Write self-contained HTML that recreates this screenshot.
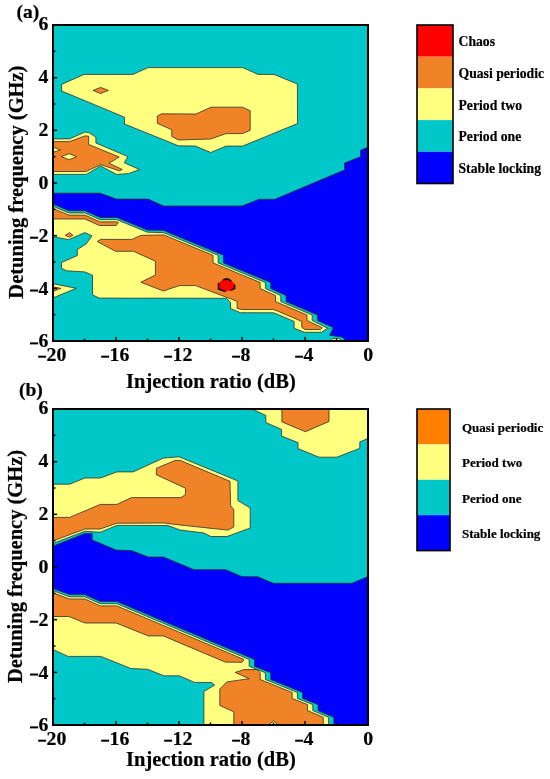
<!DOCTYPE html>
<html><head><meta charset="utf-8"><style>
html,body{margin:0;padding:0;background:#fff;}
svg{display:block;will-change:transform;}
.t{font-family:"Liberation Serif",serif;font-weight:bold;fill:#000;stroke:#000;stroke-width:0.2px;}
</style></head><body>
<svg width="550" height="779" viewBox="0 0 550 779">
<rect width="550" height="779" fill="#fff"/>
<clipPath id="ca"><rect x="54" y="26" width="313" height="314"/></clipPath>
<rect x="53" y="25" width="315" height="316" fill="#00C8C8"/>
<g clip-path="url(#ca)"><polygon points="61.6,84.4 84.0,74.4 133.0,74.4 148.0,67.6 242.6,67.6 258.0,74.4 274.0,74.4 297.4,84.0 297.5,123.6 242.6,146.1 226.1,146.1 210.7,152.5 195.4,146.1 178.4,145.8 124.5,124.0 124.5,117.2 61.6,91.0" fill="#FFFF80" stroke="#303030" stroke-width="0.8" stroke-linejoin="miter" />
<polygon points="157.3,116.0 161.6,113.8 196.0,114.0 211.0,107.2 242.6,107.2 250.2,110.8 250.2,130.3 242.6,133.6 226.1,133.6 210.7,139.0 178.4,140.0 171.8,136.4 171.8,129.8 157.3,123.3" fill="#F08228" stroke="#303030" stroke-width="0.8" stroke-linejoin="miter" />
<polygon points="93.0,90.4 100.6,87.4 108.4,90.4 100.6,93.6" fill="#F08228" stroke="#303030" stroke-width="0.8" stroke-linejoin="miter" />
<polygon points="50.0,138.9 69.5,138.9 85.0,132.1 88.6,132.5 95.9,137.1 95.9,143.0 127.9,156.6 124.3,162.8 139.5,169.5 128.6,173.6 116.8,174.5 100.5,165.9 86.4,174.4 50.0,174.4" fill="#FFFF80" stroke="#303030" stroke-width="0.8" stroke-linejoin="miter" />
<polygon points="50.0,141.6 69.5,141.6 85.0,135.9 88.6,136.2 88.6,144.4 119.2,157.0 109.0,163.2 122.3,169.5 119.5,170.9 100.7,164.6 86.0,171.5 50.0,171.5" fill="#F08228" stroke="#303030" stroke-width="0.8" stroke-linejoin="miter" />
<polygon points="50.0,147.5 54.0,147.5 60.5,149.8 54.0,152.0 50.0,152.0" fill="#FFFF80" stroke="#303030" stroke-width="0.8" stroke-linejoin="miter" />
<polygon points="61.4,156.6 69.1,153.7 76.8,156.6 69.1,159.8" fill="#FFFF80" stroke="#303030" stroke-width="0.8" stroke-linejoin="miter" />
<polygon points="40.0,199.0 54.0,204.5 68.9,210.7 84.9,210.7 100.2,217.5 116.6,217.4 147.3,230.0 163.8,230.5 223.5,255.3 223.5,262.9 270.7,282.5 270.7,288.5 286.0,295.6 286.0,301.6 317.5,315.0 317.5,320.5 333.5,327.7 327.7,328.2 321.4,332.3 304.5,332.3 294.1,328.2 294.1,321.4 273.8,312.8 240.4,312.7 230.5,308.4 230.5,302.4 226.5,298.3 99.1,298.1 92.5,294.8 92.5,275.2 84.9,271.9 66.4,270.8 61.5,268.1 61.5,262.6 77.3,255.5 77.3,249.5 86.0,244.1 92.0,235.9 84.9,232.6 68.5,239.7 50.0,235.9" fill="#FFFF80" stroke="#303030" stroke-width="0.8" stroke-linejoin="miter" />
<polygon points="40.0,203.4 54.0,208.9 68.9,215.1 84.9,215.1 100.2,221.9 116.6,221.8 118.4,222.6 116.2,225.5 99.5,225.5 84.9,219.0 40.0,219.0" fill="#F08228" stroke="#303030" stroke-width="0.8" stroke-linejoin="miter" />
<polygon points="65.3,235.3 69.6,232.6 72.9,235.3 69.6,237.2" fill="#F08228" stroke="#303030" stroke-width="0.8" stroke-linejoin="miter" />
<polygon points="50.0,283.9 54.0,283.9 76.2,288.3 54.0,297.5 50.0,297.5" fill="#FFFF80" stroke="#303030" stroke-width="0.8" stroke-linejoin="miter" />
<polygon points="50.0,287.2 54.0,287.2 60.9,288.3 54.0,291.0 50.0,291.0" fill="#F08228" stroke="#303030" stroke-width="0.8" stroke-linejoin="miter" />
<polygon points="97.2,241.5 100.8,239.4 132.1,239.4 138.6,236.2 142.0,235.3 163.8,234.9 213.0,255.3 213.0,262.9 260.2,282.5 260.2,288.5 275.5,295.6 275.5,301.6 307.0,315.0 307.0,320.5 322.3,327.7 320.5,329.5 305.0,329.5 301.8,327.3 301.8,321.4 273.8,309.5 242.0,309.5 237.1,308.4 237.1,301.3 195.6,285.6 179.3,285.6 163.4,291.0 140.8,282.3 155.4,275.0 155.4,261.2 133.5,251.3 115.4,251.3" fill="#F08228" stroke="#303030" stroke-width="0.8" stroke-linejoin="miter" />
<polygon points="220.5,281.2 225.5,279.0 228.0,279.0 232.0,281.3 234.4,284.0 234.4,288.5 231.0,290.2 226.0,291.6 219.0,289.0 218.4,283.5" fill="#FF0000" stroke="none" stroke-width="0" stroke-linejoin="miter" />
<polyline points="222.8,280.4 225.5,279.0 228.0,279.0 231.2,281.0" fill="none" stroke="#000" stroke-width="1.5" stroke-linejoin="miter"/>
<polyline points="218.5,283.0 218.5,289.0 225.5,291.6" fill="none" stroke="#000" stroke-width="1.5" stroke-linejoin="miter"/>
<polyline points="234.6,284.5 234.6,288.6 230.5,290.4" fill="none" stroke="#000" stroke-width="1.5" stroke-linejoin="miter"/>
<ellipse cx="336" cy="340" rx="4.5" ry="1.8" fill="#FFFF80" stroke="#303030" stroke-width="0.8"/>
<polygon points="40.0,199.0 54.0,204.5 68.9,210.7 84.9,210.7 100.2,217.5 116.6,217.4 147.3,230.0 163.8,230.5 223.5,255.3 223.5,262.9 270.7,282.5 270.7,288.5 286.0,295.6 286.0,301.6 317.5,315.0 317.5,320.5 333.5,327.7 327.7,328.2 312.2,320.5 312.2,315.0 280.8,301.6 280.8,295.6 265.4,288.5 265.4,282.5 218.2,262.9 218.2,255.3 163.8,232.7 147.3,232.2 116.6,219.6 100.2,219.7 84.9,212.9 68.9,212.9 54.0,206.7 40.0,201.2" fill="#00C8C8" stroke="none" stroke-width="0" stroke-linejoin="miter" />
<polyline points="40.0,201.2 54.0,206.7 68.9,212.9 84.9,212.9 100.2,219.7 116.6,219.6 147.3,232.2 163.8,232.7 218.2,255.3 218.2,262.9 265.4,282.5 265.4,288.5 280.8,295.6 280.8,301.6 312.2,315.0 312.2,320.5 327.7,328.2" fill="none" stroke="#303030" stroke-width="0.8" stroke-linejoin="miter"/>
<polygon points="40.0,193.2 100.2,193.2 116.4,199.1 148.2,199.1 163.6,206.0 242.0,206.0 259.0,199.3 274.9,199.3 344.5,169.9 344.5,163.0 360.5,156.8 360.5,150.3 367.0,147.4 375.0,144.0 375.0,350.0 350.0,345.0 342.0,337.1 329.5,335.2 333.5,327.7 317.5,320.5 317.5,315.0 286.0,301.6 286.0,295.6 270.7,288.5 270.7,282.5 223.5,262.9 223.5,255.3 163.8,230.5 147.3,230.0 116.6,217.4 100.2,217.5 84.9,210.7 68.9,210.7 54.0,204.5 40.0,199.0" fill="#0000FF" stroke="#303030" stroke-width="0.8" stroke-linejoin="miter" /></g>
<line x1="116.0" y1="341" x2="116.0" y2="337" stroke="#000" stroke-width="1.5"/>
<line x1="179.0" y1="341" x2="179.0" y2="337" stroke="#000" stroke-width="1.5"/>
<line x1="242.0" y1="341" x2="242.0" y2="337" stroke="#000" stroke-width="1.5"/>
<line x1="305.0" y1="341" x2="305.0" y2="337" stroke="#000" stroke-width="1.5"/>
<line x1="84.5" y1="341" x2="84.5" y2="338.5" stroke="#000" stroke-width="1.5"/>
<line x1="147.5" y1="341" x2="147.5" y2="338.5" stroke="#000" stroke-width="1.5"/>
<line x1="210.5" y1="341" x2="210.5" y2="338.5" stroke="#000" stroke-width="1.5"/>
<line x1="273.5" y1="341" x2="273.5" y2="338.5" stroke="#000" stroke-width="1.5"/>
<line x1="336.5" y1="341" x2="336.5" y2="338.5" stroke="#000" stroke-width="1.5"/>
<line x1="53" y1="77.66666666666666" x2="57" y2="77.66666666666666" stroke="#000" stroke-width="1.5"/>
<line x1="53" y1="130.33333333333331" x2="57" y2="130.33333333333331" stroke="#000" stroke-width="1.5"/>
<line x1="53" y1="183.0" x2="57" y2="183.0" stroke="#000" stroke-width="1.5"/>
<line x1="53" y1="235.66666666666666" x2="57" y2="235.66666666666666" stroke="#000" stroke-width="1.5"/>
<line x1="53" y1="288.3333333333333" x2="57" y2="288.3333333333333" stroke="#000" stroke-width="1.5"/>
<line x1="53" y1="51.33333333333333" x2="55.5" y2="51.33333333333333" stroke="#000" stroke-width="1.5"/>
<line x1="53" y1="104.0" x2="55.5" y2="104.0" stroke="#000" stroke-width="1.5"/>
<line x1="53" y1="156.66666666666666" x2="55.5" y2="156.66666666666666" stroke="#000" stroke-width="1.5"/>
<line x1="53" y1="209.33333333333334" x2="55.5" y2="209.33333333333334" stroke="#000" stroke-width="1.5"/>
<line x1="53" y1="262.0" x2="55.5" y2="262.0" stroke="#000" stroke-width="1.5"/>
<line x1="53" y1="314.6666666666667" x2="55.5" y2="314.6666666666667" stroke="#000" stroke-width="1.5"/>
<rect x="53" y="25" width="315" height="316" fill="none" stroke="#000" stroke-width="2"/>
<rect x="38.20" y="355.70" width="7.9" height="2.0" fill="#000"/>
<text x="46.60" y="360.70" class="t" font-size="19.8">20</text>
<rect x="101.20" y="355.70" width="7.9" height="2.0" fill="#000"/>
<text x="109.60" y="360.70" class="t" font-size="19.8">16</text>
<rect x="164.20" y="355.70" width="7.9" height="2.0" fill="#000"/>
<text x="172.60" y="360.70" class="t" font-size="19.8">12</text>
<rect x="232.15" y="355.70" width="7.9" height="2.0" fill="#000"/>
<text x="240.55" y="360.70" class="t" font-size="19.8">8</text>
<rect x="295.15" y="355.70" width="7.9" height="2.0" fill="#000"/>
<text x="303.55" y="360.70" class="t" font-size="19.8">4</text>
<text x="368.20" y="360.70" text-anchor="middle" class="t" font-size="19.8">0</text>
<text x="48.50" y="30.42" text-anchor="end" class="t" font-size="19.8">6</text>
<text x="48.50" y="83.25" text-anchor="end" class="t" font-size="19.8">4</text>
<text x="48.50" y="136.07" text-anchor="end" class="t" font-size="19.8">2</text>
<text x="48.50" y="188.90" text-anchor="end" class="t" font-size="19.8">0</text>
<text x="48.50" y="241.73" text-anchor="end" class="t" font-size="19.8">2</text>
<rect x="30.00" y="236.73" width="8.1" height="2.0" fill="#000"/>
<text x="48.50" y="294.55" text-anchor="end" class="t" font-size="19.8">4</text>
<rect x="30.00" y="289.55" width="8.1" height="2.0" fill="#000"/>
<text x="48.50" y="347.38" text-anchor="end" class="t" font-size="19.8">6</text>
<rect x="30.00" y="342.38" width="8.1" height="2.0" fill="#000"/>
<text x="210.9" y="387.5" text-anchor="middle" class="t" font-size="20.5">Injection ratio (dB)</text>
<text transform="translate(22.5,182.1) rotate(-90)" x="0" y="0" text-anchor="middle" class="t" font-size="20.5">Detuning frequency (GHz)</text>
<text x="16.44" y="17.8" class="t" font-size="19.5">(a)</text>
<rect x="417" y="25" width="36" height="31.7" fill="#FF0000"/>
<text x="458.5" y="45.70" class="t" font-size="13.7">Chaos</text>
<rect x="417" y="56.7" width="36" height="31.7" fill="#F08228"/>
<text x="458.5" y="78.20" class="t" font-size="13.7">Quasi periodic</text>
<rect x="417" y="88.4" width="36" height="31.7" fill="#FFFF80"/>
<text x="458.5" y="109.50" class="t" font-size="13.7">Period two</text>
<rect x="417" y="120.10000000000001" width="36" height="31.7" fill="#00C8C8"/>
<text x="458.5" y="141.40" class="t" font-size="13.7">Period one</text>
<rect x="417" y="151.8" width="36" height="31.7" fill="#0000FF"/>
<text x="458.5" y="172.70" class="t" font-size="13.7">Stable locking</text>
<rect x="417" y="25" width="36" height="158.5" fill="none" stroke="#000" stroke-width="1.6"/>
<clipPath id="cb"><rect x="54" y="410" width="313" height="314"/></clipPath>
<rect x="53" y="409" width="315" height="316" fill="#00C8C8"/>
<g clip-path="url(#cb)"><polygon points="250.0,405.0 252.0,409.0 265.8,415.4 265.8,422.5 281.6,429.5 281.6,436.1 298.0,442.6 298.0,448.6 319.1,457.2 336.9,457.2 359.8,448.3 359.8,441.9 375.0,435.5 375.0,405.0" fill="#FFFF80" stroke="#303030" stroke-width="0.8" stroke-linejoin="miter" />
<polygon points="281.9,400.0 281.9,421.9 305.4,431.7 329.0,421.5 329.0,400.0" fill="#F08228" stroke="#303030" stroke-width="0.8" stroke-linejoin="miter" />
<polygon points="40.0,484.2 69.6,484.2 84.9,478.0 100.5,478.0 116.9,471.9 133.0,471.9 163.5,458.1 179.0,456.8 237.9,481.0 237.9,500.6 250.2,508.0 250.2,528.0 227.0,536.5 211.0,536.5 204.0,533.0 180.0,530.0 168.0,525.6 130.0,525.4 116.9,525.4 100.2,532.3 84.9,531.2 54.0,543.1 40.0,548.7" fill="#FFFF80" stroke="#303030" stroke-width="0.8" stroke-linejoin="miter" />
<polygon points="40.0,517.4 69.6,517.4 100.2,504.4 116.9,504.4 131.5,497.6 181.0,497.6 185.5,494.5 185.5,488.2 156.3,474.8 156.3,468.3 175.0,460.5 180.0,460.3 230.0,481.3 230.6,505.6 233.8,509.6 233.8,527.0 228.1,530.1 208.0,528.0 180.0,525.0 164.0,523.0 130.0,523.2 116.9,523.2 100.2,529.0 84.9,529.0 54.0,540.6 40.0,546.0" fill="#F08228" stroke="#303030" stroke-width="0.8" stroke-linejoin="miter" />
<polygon points="40.0,583.6 54.0,588.8 69.6,594.6 84.9,594.6 100.2,601.5 116.9,601.5 254.5,659.5 254.5,666.3 270.7,672.8 270.7,679.5 302.7,692.5 302.7,698.5 318.0,704.6 318.0,710.6 333.8,717.3 333.8,730.0 203.9,730.0 203.9,691.5 214.7,685.1 211.5,682.5 194.5,682.4 179.3,675.8 164.0,675.8 147.6,669.3 130.9,668.5 100.9,656.4 68.2,656.4 54.0,650.0 40.0,644.0" fill="#FFFF80" stroke="#303030" stroke-width="0.8" stroke-linejoin="miter" />
<polygon points="40.0,588.0 54.0,593.2 69.6,599.0 84.9,599.0 100.2,605.9 116.9,605.9 244.0,659.5 242.1,662.2 225.5,662.2 163.2,635.9 148.2,635.9 116.2,623.0 84.9,623.0 68.9,616.5 40.0,616.5" fill="#F08228" stroke="#303030" stroke-width="0.8" stroke-linejoin="miter" />
<polygon points="235.1,672.4 244.0,669.6 257.4,669.6 260.2,672.8 260.2,679.5 292.2,692.5 292.2,698.5 307.5,704.6 307.5,710.6 323.3,717.3 323.3,730.0 233.8,730.0 233.8,711.8 219.8,705.5 219.8,688.9 226.8,681.9 249.1,678.7" fill="#F08228" stroke="#303030" stroke-width="0.8" stroke-linejoin="miter" />
<polygon points="268.5,725.0 273.5,720.8 278.5,725.0" fill="#FFFF80" stroke="#303030" stroke-width="0.8" stroke-linejoin="miter" />
<polygon points="40.0,583.6 54.0,588.8 69.6,594.6 84.9,594.6 100.2,601.5 116.9,601.5 254.5,659.5 254.5,666.3 270.7,672.8 270.7,679.5 302.7,692.5 302.7,698.5 318.0,704.6 318.0,710.6 333.8,717.3 333.8,730.0 328.6,730.0 328.6,717.3 312.8,710.6 312.8,704.6 297.4,698.5 297.4,692.5 265.4,679.5 265.4,672.8 249.2,666.3 249.2,659.5 116.9,603.7 100.2,603.7 84.9,596.8 69.6,596.8 54.0,591.0 40.0,585.8" fill="#00C8C8" stroke="none" stroke-width="0" stroke-linejoin="miter" />
<polyline points="40.0,585.8 54.0,591.0 69.6,596.8 84.9,596.8 100.2,603.7 116.9,603.7 249.2,659.5 249.2,666.3 265.4,672.8 265.4,679.5 297.4,692.5 297.4,698.5 312.8,704.6 312.8,710.6 328.6,717.3 328.6,730.0" fill="none" stroke="#303030" stroke-width="0.8" stroke-linejoin="miter"/>
<polygon points="40.0,551.3 54.0,545.7 84.9,533.4 92.2,533.4 92.2,539.9 116.2,550.1 131.6,550.6 148.2,557.0 163.4,557.0 194.0,569.7 225.8,569.7 241.8,576.6 258.0,576.8 273.3,583.3 352.1,583.3 375.0,573.5 375.0,735.0 333.8,730.0 333.8,717.3 318.0,710.6 318.0,704.6 302.7,698.5 302.7,692.5 270.7,679.5 270.7,672.8 254.5,666.3 254.5,659.5 116.9,601.5 100.2,601.5 84.9,594.6 69.6,594.6 54.0,588.8 40.0,583.6" fill="#0000FF" stroke="#303030" stroke-width="0.8" stroke-linejoin="miter" /></g>
<line x1="116.0" y1="725" x2="116.0" y2="721" stroke="#000" stroke-width="1.5"/>
<line x1="179.0" y1="725" x2="179.0" y2="721" stroke="#000" stroke-width="1.5"/>
<line x1="242.0" y1="725" x2="242.0" y2="721" stroke="#000" stroke-width="1.5"/>
<line x1="305.0" y1="725" x2="305.0" y2="721" stroke="#000" stroke-width="1.5"/>
<line x1="84.5" y1="725" x2="84.5" y2="722.5" stroke="#000" stroke-width="1.5"/>
<line x1="147.5" y1="725" x2="147.5" y2="722.5" stroke="#000" stroke-width="1.5"/>
<line x1="210.5" y1="725" x2="210.5" y2="722.5" stroke="#000" stroke-width="1.5"/>
<line x1="273.5" y1="725" x2="273.5" y2="722.5" stroke="#000" stroke-width="1.5"/>
<line x1="336.5" y1="725" x2="336.5" y2="722.5" stroke="#000" stroke-width="1.5"/>
<line x1="53" y1="461.6666666666667" x2="57" y2="461.6666666666667" stroke="#000" stroke-width="1.5"/>
<line x1="53" y1="514.3333333333334" x2="57" y2="514.3333333333334" stroke="#000" stroke-width="1.5"/>
<line x1="53" y1="567.0" x2="57" y2="567.0" stroke="#000" stroke-width="1.5"/>
<line x1="53" y1="619.6666666666666" x2="57" y2="619.6666666666666" stroke="#000" stroke-width="1.5"/>
<line x1="53" y1="672.3333333333333" x2="57" y2="672.3333333333333" stroke="#000" stroke-width="1.5"/>
<line x1="53" y1="435.3333333333333" x2="55.5" y2="435.3333333333333" stroke="#000" stroke-width="1.5"/>
<line x1="53" y1="488.0" x2="55.5" y2="488.0" stroke="#000" stroke-width="1.5"/>
<line x1="53" y1="540.6666666666666" x2="55.5" y2="540.6666666666666" stroke="#000" stroke-width="1.5"/>
<line x1="53" y1="593.3333333333334" x2="55.5" y2="593.3333333333334" stroke="#000" stroke-width="1.5"/>
<line x1="53" y1="646.0" x2="55.5" y2="646.0" stroke="#000" stroke-width="1.5"/>
<line x1="53" y1="698.6666666666667" x2="55.5" y2="698.6666666666667" stroke="#000" stroke-width="1.5"/>
<rect x="53" y="409" width="315" height="316" fill="none" stroke="#000" stroke-width="2"/>
<rect x="38.20" y="739.70" width="7.9" height="2.0" fill="#000"/>
<text x="46.60" y="744.70" class="t" font-size="19.8">20</text>
<rect x="101.20" y="739.70" width="7.9" height="2.0" fill="#000"/>
<text x="109.60" y="744.70" class="t" font-size="19.8">16</text>
<rect x="164.20" y="739.70" width="7.9" height="2.0" fill="#000"/>
<text x="172.60" y="744.70" class="t" font-size="19.8">12</text>
<rect x="232.15" y="739.70" width="7.9" height="2.0" fill="#000"/>
<text x="240.55" y="744.70" class="t" font-size="19.8">8</text>
<rect x="295.15" y="739.70" width="7.9" height="2.0" fill="#000"/>
<text x="303.55" y="744.70" class="t" font-size="19.8">4</text>
<text x="368.20" y="744.70" text-anchor="middle" class="t" font-size="19.8">0</text>
<text x="48.50" y="414.42" text-anchor="end" class="t" font-size="19.8">6</text>
<text x="48.50" y="467.25" text-anchor="end" class="t" font-size="19.8">4</text>
<text x="48.50" y="520.07" text-anchor="end" class="t" font-size="19.8">2</text>
<text x="48.50" y="572.90" text-anchor="end" class="t" font-size="19.8">0</text>
<text x="48.50" y="625.73" text-anchor="end" class="t" font-size="19.8">2</text>
<rect x="30.00" y="620.73" width="8.1" height="2.0" fill="#000"/>
<text x="48.50" y="678.55" text-anchor="end" class="t" font-size="19.8">4</text>
<rect x="30.00" y="673.55" width="8.1" height="2.0" fill="#000"/>
<text x="48.50" y="731.38" text-anchor="end" class="t" font-size="19.8">6</text>
<rect x="30.00" y="726.38" width="8.1" height="2.0" fill="#000"/>
<text x="210.9" y="766.3" text-anchor="middle" class="t" font-size="20.5">Injection ratio (dB)</text>
<text transform="translate(22.0,566.4) rotate(-90)" x="0" y="0" text-anchor="middle" class="t" font-size="20.5">Detuning frequency (GHz)</text>
<text x="18.9" y="395.6" class="t" font-size="19.5">(b)</text>
<rect x="417" y="409" width="33" height="35.4" fill="#FF8000"/>
<text x="462" y="431.60" class="t" font-size="13.0">Quasi periodic</text>
<rect x="417" y="444.4" width="33" height="35.4" fill="#FFFF80"/>
<text x="462" y="467.00" class="t" font-size="13.0">Period two</text>
<rect x="417" y="479.79999999999995" width="33" height="35.4" fill="#00C8C8"/>
<text x="462" y="502.90" class="t" font-size="13.0">Period one</text>
<rect x="417" y="515.1999999999999" width="33" height="35.4" fill="#0000FF"/>
<text x="462" y="538.30" class="t" font-size="13.0">Stable locking</text>
<rect x="417" y="409" width="33" height="141.6" fill="none" stroke="#000" stroke-width="1.6"/>
</svg></body></html>
